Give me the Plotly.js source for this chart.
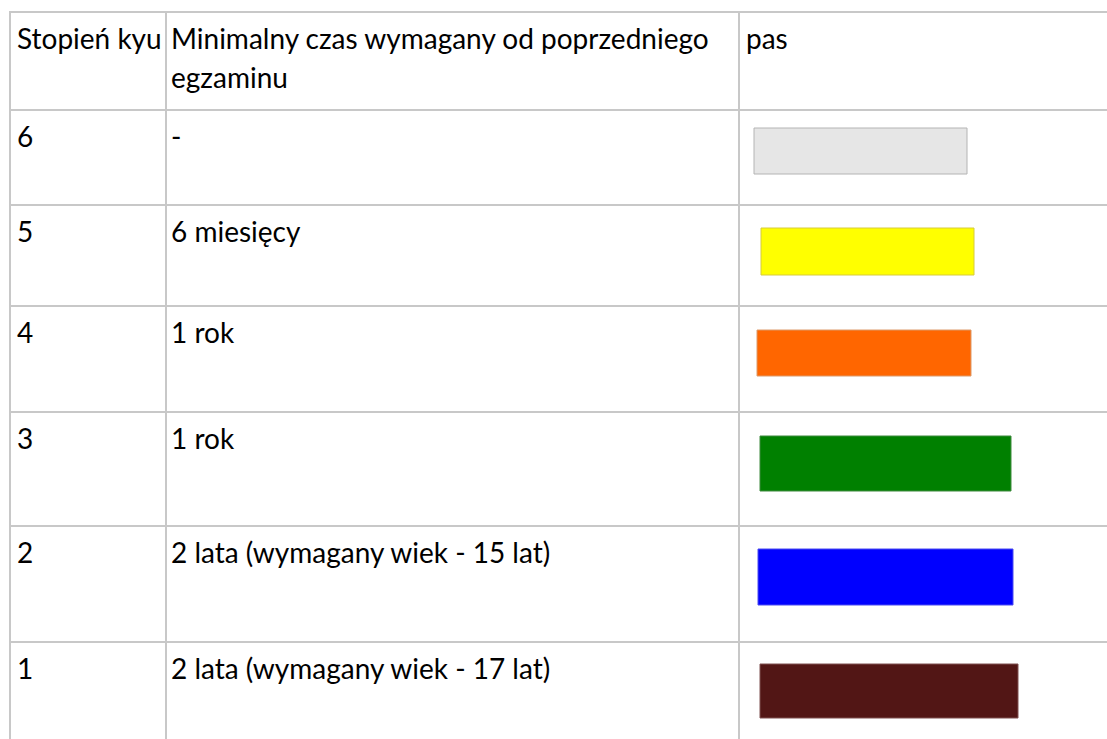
<!DOCTYPE html>
<html>
<head>
<meta charset="utf-8">
<script src="https://cdn.plot.ly/plotly-3.0.1.min.js"></script>
<style>html,body{margin:0;padding:0;background:#fff;}#chart{width:1107px;height:739px;}</style>
</head>
<body>
<div id="chart"></div>
<script>
// ---- data ----
const headers = ['Stopień kyu', 'Minimalny czas wymagany od poprzedniego<br>egzaminu', 'pas'];
const kyu = ['6', '5', '4', '3', '2', '1'];
const minTime = ['-', '6 miesięcy', '1 rok', '1 rok', '2 lata (wymagany wiek - 15 lat)', '2 lata (wymagany wiek - 17 lat)'];
const beltColors = ['#e6e6e6', '#ffff00', '#ff6600', '#008000', '#0000ff', '#521615'];

// ---- layout geometry (pixel space) ----
const W = 1107, H = 739;
const rowTops = [12, 110, 205, 306, 412, 526, 642];
const colLines = [10, 166, 739];
const textX = [17, 171, 746];
const fontSize = 28;
const baselineOff = 37;
const lineGap = 39;
const beltEdge = ['#b4b4b4', '#d6cb3c', '#dc9a6a', '#3f8a3f', '#4b4bf0', '#7e5050'];
const beltBox = [
  [754, 967, 128, 174],
  [761, 974, 228, 275],
  [757, 971, 330, 376],
  [760, 1011, 436, 491],
  [758, 1013, 549, 605],
  [760, 1018, 664, 718]
];
const gridColor = '#c8c8c8';

function textY(rowTop, lineIdx) {
  return rowTop + baselineOff + lineIdx * lineGap - 0.25 * fontSize;
}

const tx = [], ty = [], tt = [];
headers.forEach(function (h, c) {
  h.split('<br>').forEach(function (line, li) {
    tx.push(textX[c]); ty.push(textY(rowTops[0], li)); tt.push(line);
  });
});
kyu.forEach(function (k, i) {
  tx.push(textX[0]); ty.push(textY(rowTops[i + 1], 0)); tt.push(k);
  tx.push(textX[1]); ty.push(textY(rowTops[i + 1], 0)); tt.push(minTime[i]);
});

const shapes = [];
rowTops.forEach(function (y) {
  shapes.push({type: 'line', xref: 'x', yref: 'y', x0: colLines[0] - 1, x1: W, y0: y, y1: y,
    line: {color: gridColor, width: 2}, layer: 'below'});
});
colLines.forEach(function (x) {
  shapes.push({type: 'line', xref: 'x', yref: 'y', x0: x, x1: x, y0: rowTops[0], y1: H,
    line: {color: gridColor, width: 2}, layer: 'below'});
});
beltColors.forEach(function (col, i) {
  const b = beltBox[i];
  shapes.push({type: 'rect', xref: 'x', yref: 'y', x0: b[0], x1: b[1], y0: b[2], y1: b[3],
    fillcolor: col, line: {color: beltEdge[i], width: 1}});
});

const trace = {
  type: 'scatter', mode: 'text', x: tx, y: ty, text: tt,
  textposition: 'middle right',
  textfont: {family: 'Lato, "Open Sans", sans-serif', size: fontSize, color: '#000'},
  hoverinfo: 'skip', cliponaxis: false, showlegend: false
};

const layout = {
  width: W, height: H,
  margin: {l: 0, r: 0, t: 0, b: 0, pad: 0},
  paper_bgcolor: '#fff', plot_bgcolor: '#fff',
  xaxis: {range: [0, W], visible: false, fixedrange: true},
  yaxis: {range: [H, 0], visible: false, fixedrange: true},
  shapes: shapes,
  showlegend: false
};

Plotly.newPlot('chart', [trace], layout, {displayModeBar: false, staticPlot: true});
</script>
</body>
</html>
